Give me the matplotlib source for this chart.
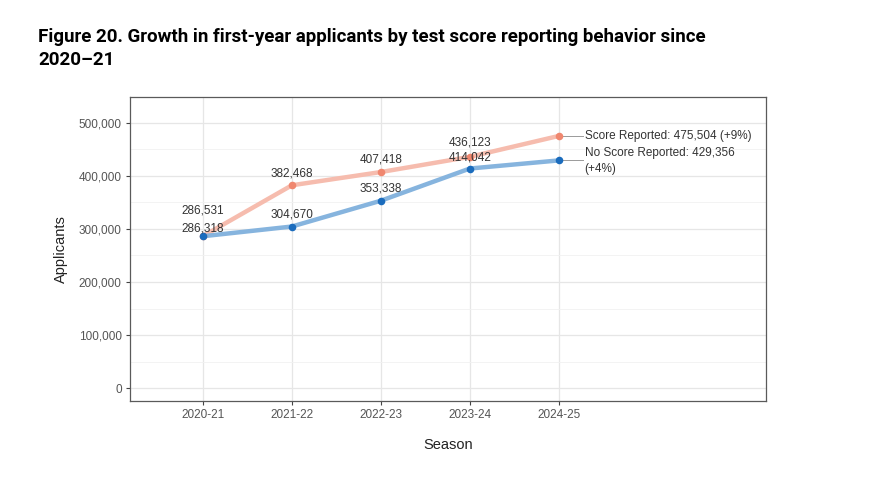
import numpy as np
import matplotlib.pyplot as plt
from matplotlib.ticker import FuncFormatter, MultipleLocator

# data
seasons = ['2020-21', '2021-22', '2022-23', '2023-24', '2024-25']
score_reported = [286531, 382468, 407418, 436123, 475504]
no_score_reported = [286318, 304670, 353338, 414042, 429356]
end_labels = ['Score Reported: 475,504 (+9%)', 'No Score Reported: 429,356\n(+4%)']

c_score_line, c_score_pt = '#f6bcae', '#f0876f'
c_none_line, c_none_pt = '#86b4de', '#1b6cbd'

plt.rcParams['font.family'] = ['Liberation Sans', 'DejaVu Sans']

fig = plt.figure(figsize=(8.84, 4.8), dpi=100)
W, H = 884, 480
ax = fig.add_axes([130 / W, 1 - 401 / H, (766 - 130) / W, (401 - 97) / H])

x = np.arange(len(seasons))
ax.plot(x, score_reported, color=c_score_line, lw=3.2, solid_capstyle='round', zorder=3)
ax.plot(x, no_score_reported, color=c_none_line, lw=3.2, solid_capstyle='round', zorder=3)
ax.scatter(x, score_reported, s=30, color=c_score_pt, zorder=4, linewidths=0)
ax.scatter(x, no_score_reported, s=30, color=c_none_pt, zorder=4, linewidths=0)

# value labels (last point gets the side label instead)
lab_col = '#333333'
score_off = [14, 4.5, 4.5, 6]
none_off = [1.5, 4.5, 4.5, 3.5]
for i in range(4):
    ax.annotate(f'{score_reported[i]:,}', (x[i], score_reported[i]), xytext=(0, score_off[i]),
                textcoords='offset points', ha='center', va='bottom', fontsize=8.5, color=lab_col, zorder=5)
    ax.annotate(f'{no_score_reported[i]:,}', (x[i], no_score_reported[i]), xytext=(0, none_off[i]),
                textcoords='offset points', ha='center', va='bottom', fontsize=8.5, color=lab_col, zorder=5)

# side labels with connector lines
xe = x[-1]
for val in [score_reported[-1], no_score_reported[-1]]:
    ax.plot([xe, xe + 0.27], [val, val], color='#9a9a9a', lw=0.7, zorder=2)
ax.text(xe + 0.29, score_reported[-1], end_labels[0], ha='left', va='center', fontsize=8.5, color=lab_col)
ax.text(xe + 0.29, no_score_reported[-1] + 13500, end_labels[1], ha='left', va='center', fontsize=8.5,
        color=lab_col, linespacing=1.45)
ax.texts[-1].set_va('top')
ax.texts[-1].set_y(no_score_reported[-1] + 25000)

ax.set_xlim(-0.82, 6.33)
ax.set_ylim(-24500, 549000)
ax.set_xticks(x)
ax.set_xticklabels(seasons)
ax.yaxis.set_major_locator(MultipleLocator(100000))
ax.yaxis.set_minor_locator(MultipleLocator(50000))
ax.yaxis.set_major_formatter(FuncFormatter(lambda v, p: f'{int(v):,}'))

ax.grid(which='major', color='#e6e6e6', lw=0.9)
ax.grid(which='minor', axis='y', color='#f1f1f1', lw=0.6)
ax.set_axisbelow(True)
for s in ax.spines.values():
    s.set_color('#5a5a5a')
    s.set_linewidth(0.9)
ax.tick_params(axis='both', which='major', length=3, width=0.8, color='#444444',
               labelsize=8.5, labelcolor='#555555', pad=3)
ax.tick_params(axis='y', which='minor', length=0)

ax.set_xlabel('Season', fontsize=10.5, color='#222222', labelpad=12)
ax.set_ylabel('Applicants', fontsize=10.5, color='#222222', labelpad=8)

fig.text(38 / W, 1 - 37 / H, 'Figure 20. Growth in first-year applicants by test score reporting behavior since',
         fontsize=13.5, fontweight='bold', family=['Roboto', 'DejaVu Sans'], va='center', ha='left')
fig.text(38 / W, 1 - 60 / H, '2020\u201321', fontsize=13.5, fontweight='bold',
         family=['Roboto', 'DejaVu Sans'], va='center', ha='left')

fig.savefig('out.png', dpi=100)
